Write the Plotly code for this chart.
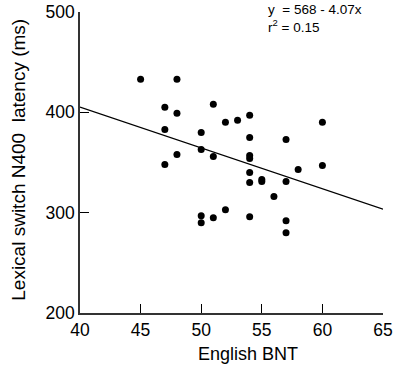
import plotly.graph_objects as go

# English BNT scores (x) and Lexical switch N400 latency in ms (y)
bnt = [45, 48, 47, 48, 47, 48, 47, 50, 50, 51, 51, 52, 53, 54, 54, 54, 54, 54, 54,
       55, 55, 56, 57, 57, 57, 57, 58, 60, 60, 50, 50, 51, 52, 54]
latency = [433, 433, 405, 399, 383, 358, 348, 380, 363, 408, 356, 390, 392, 397, 375, 357, 354, 340, 330,
           333, 331, 316, 373, 331, 292, 280, 343, 390, 347, 297, 290, 295, 303, 296]

# Regression: y = 568 - 4.07x
intercept = 568
slope = -4.07
line_x = [40, 65]
line_y = [intercept + slope * v for v in line_x]

x_ticks = [40, 45, 50, 55, 60, 65]
y_ticks = [200, 300, 400, 500]

FONT = "Liberation Sans, Arial, Helvetica, sans-serif"

L, R, T, B = 80, 19, 12, 65.5
PW = 402 - L - R
PH = 379 - T - B


def px(x):
    return (x - L) / PW


def py(y):
    return (379 - B - y) / PH


fig = go.Figure()
fig.add_trace(go.Scatter(x=line_x, y=line_y, mode="lines",
                         line=dict(color="black", width=1.3), hoverinfo="skip",
                         showlegend=False))
fig.add_trace(go.Scatter(x=bnt, y=latency, mode="markers",
                         marker=dict(color="black", size=7), showlegend=False))

axis_common = dict(showgrid=False, zeroline=False, showline=True, linecolor="#333",
                   linewidth=1.5, ticks="inside", ticklen=9, tickcolor="black", tickwidth=1,
                   automargin=False,
                   tickfont=dict(family=FONT, size=17.5, color="black"))

fig.update_layout(
    width=402, height=379,
    margin=dict(l=L, r=R, t=T, b=B, autoexpand=False),
    paper_bgcolor="white", plot_bgcolor="white",
    xaxis=dict(range=[40, 65], tickvals=x_ticks, ticktext=[str(t) for t in x_ticks], **axis_common),
    yaxis=dict(range=[200, 500], tickvals=y_ticks, ticktext=[str(t) for t in y_ticks], **axis_common),
    font=dict(family=FONT, color="black"),
)

fig.add_annotation(text="Lexical switch N400  latency (ms)", xref="paper", yref="paper",
                   x=px(19), y=py(160), xanchor="center", yanchor="middle", textangle=-90,
                   showarrow=False, font=dict(family=FONT, size=19, color="black"))
fig.add_annotation(text="English BNT", xref="paper", yref="paper",
                   x=px(248), y=py(355), xanchor="center", yanchor="middle",
                   showarrow=False, font=dict(family=FONT, size=18, color="black"))
fig.add_annotation(text="y  = 568 - 4.07x<br>r<sup>2</sup> = 0.15", xref="paper", yref="paper",
                   x=px(266), y=py(0), xanchor="left", yanchor="top", align="left",
                   showarrow=False, font=dict(family=FONT, size=13.5, color="black"))

fig.write_html("out.html", config={"displayModeBar": False},
               post_script="document.body.style.margin='0';")
